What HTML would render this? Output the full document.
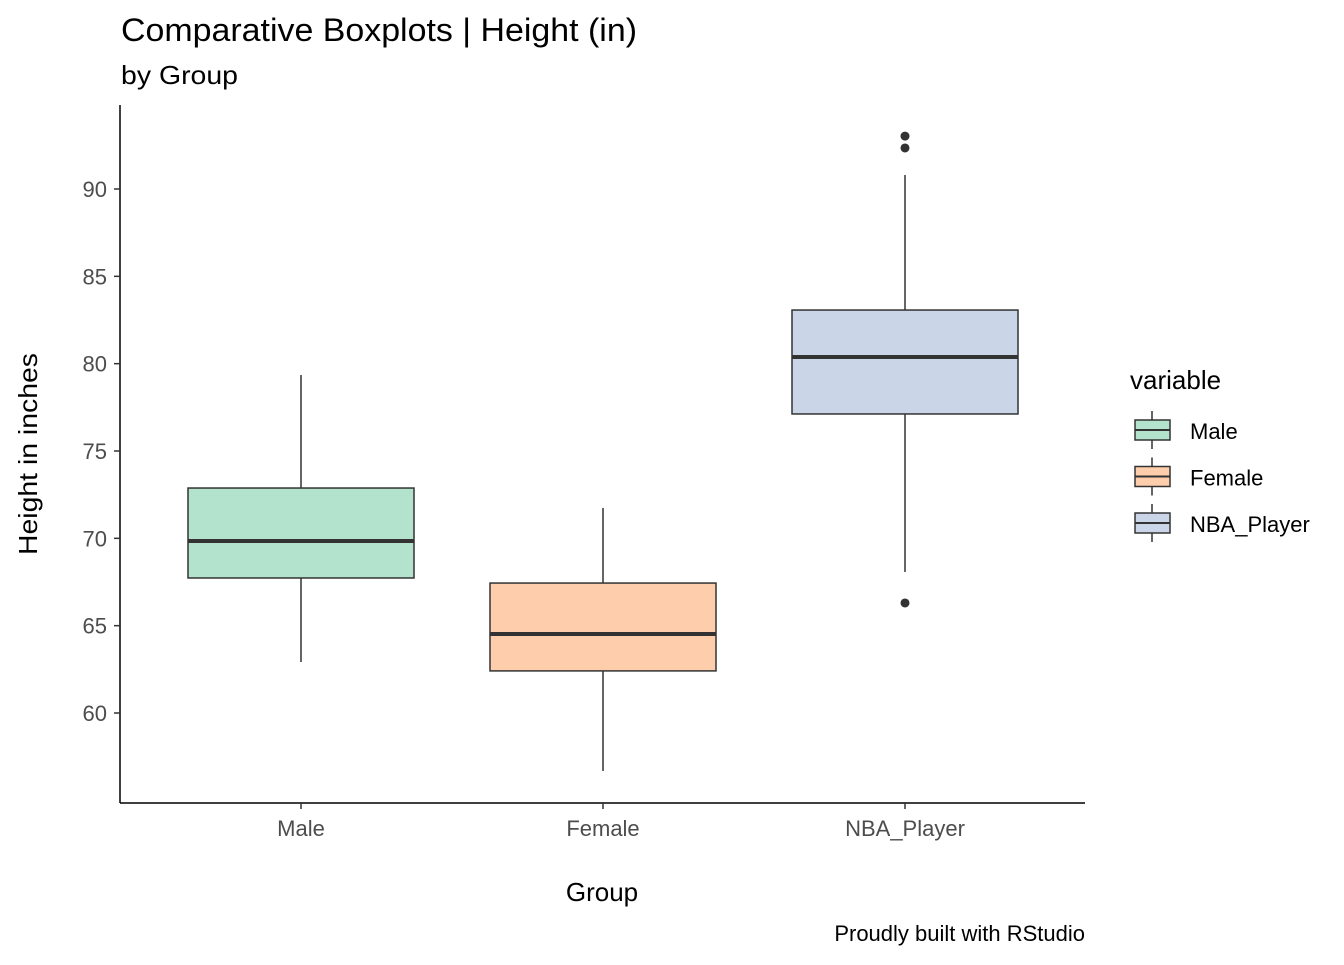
<!DOCTYPE html>
<html><head><meta charset="utf-8"><style>
body{margin:0;background:#fff;}
svg text{font-family:"Liberation Sans",sans-serif;}
</style></head><body>
<svg id="chart" width="1344" height="960">
<text x="121" y="41" font-size="32" fill="#000" textLength="516" lengthAdjust="spacingAndGlyphs">Comparative Boxplots | Height (in)</text>
<text x="121" y="84" font-size="26" fill="#000" textLength="117" lengthAdjust="spacingAndGlyphs">by Group</text>
<g id="plot"></g>
<text x="602" y="901" font-size="26" text-anchor="middle">Group</text>
<text transform="translate(37,454) rotate(-90)" font-size="26" text-anchor="middle" textLength="202" lengthAdjust="spacingAndGlyphs">Height in inches</text>
<text x="1085" y="941" font-size="22" text-anchor="end">Proudly built with RStudio</text>
<text x="1130" y="389" font-size="26">variable</text>
<g id="legend"></g>
</svg>
<script>
const categories=["Male","Female","NBA_Player"];
const colors=["#b3e2cd","#fdcdac","#cbd5e8"];
const lowW=[62.92,56.68,68.07];
const q1=[67.73,62.41,77.12];
const med=[69.85,64.52,80.38];
const q3=[72.88,67.44,83.07];
const highW=[79.35,71.74,90.8];
const outliers=[[],[],[93.03,92.35,66.3]];
const yTicks=[60,65,70,75,80,85,90];
const NS="http://www.w3.org/2000/svg";
const y=v=>189+(90-v)*(524/30);
const x=i=>301+i*302;
function mk(p,t,a){const e=document.createElementNS(NS,t);for(const k in a)e.setAttribute(k,a[k]);p.appendChild(e);return e;}
const g=document.getElementById('plot');
const ax=mk(g,'line',{x1:120,y1:105,x2:120,y2:803,stroke:'#000','stroke-width':1.5});


const bx=mk(g,'line',{x1:120,y1:803,x2:1085,y2:803,stroke:'#000','stroke-width':1.5});


yTicks.forEach(t=>{
 mk(g,'line',{x1:114,x2:120,y1:y(t),y2:y(t),stroke:'#333','stroke-width':1.5});
 const tx=mk(g,'text',{x:107,y:y(t)+8,'font-size':22,fill:'#4d4d4d','text-anchor':'end'});tx.textContent=t;
 
 
});
categories.forEach((c,i)=>{
 const cx=x(i),w=113;
 mk(g,'line',{x1:cx,x2:cx,y1:803,y2:809,stroke:'#333','stroke-width':1.5});
 const tl=mk(g,'text',{x:cx,y:836,'font-size':22,fill:'#4d4d4d','text-anchor':'middle'});tl.textContent=c;
 
 
 const bg=mk(g,'g',{});
 
 
 mk(bg,'line',{x1:cx,x2:cx,y1:y(highW[i]),y2:y(q3[i]),stroke:'#333','stroke-width':1.5});
 mk(bg,'line',{x1:cx,x2:cx,y1:y(q1[i]),y2:y(lowW[i]),stroke:'#333','stroke-width':1.5});
 mk(bg,'rect',{x:cx-w,y:y(q3[i]),width:2*w,height:y(q1[i])-y(q3[i]),fill:colors[i],stroke:'#333','stroke-width':1.5});
 mk(bg,'line',{x1:cx-w,x2:cx+w,y1:y(med[i]),y2:y(med[i]),stroke:'#333','stroke-width':4});
 outliers[i].forEach(o=>{const pt=mk(bg,'circle',{cx:cx,cy:y(o),r:4.5,fill:'#333'});
  
  });
});
const lg=document.getElementById('legend');
categories.forEach((c,i)=>{
 const cy=430+i*46.5;
 const e=mk(lg,'g',{});
 
 
 mk(e,'line',{x1:1152,x2:1152,y1:cy-19,y2:cy+19,stroke:'#333','stroke-width':1.5});
 mk(e,'rect',{x:1135,y:cy-10,width:35,height:20,fill:colors[i],stroke:'#333','stroke-width':1.5});
 mk(e,'line',{x1:1135,x2:1170,y1:cy,y2:cy,stroke:'#333','stroke-width':2});
 const t=mk(e,'text',{x:1190,y:cy+9,'font-size':22});t.textContent=c;
});
</script>
</body></html>
